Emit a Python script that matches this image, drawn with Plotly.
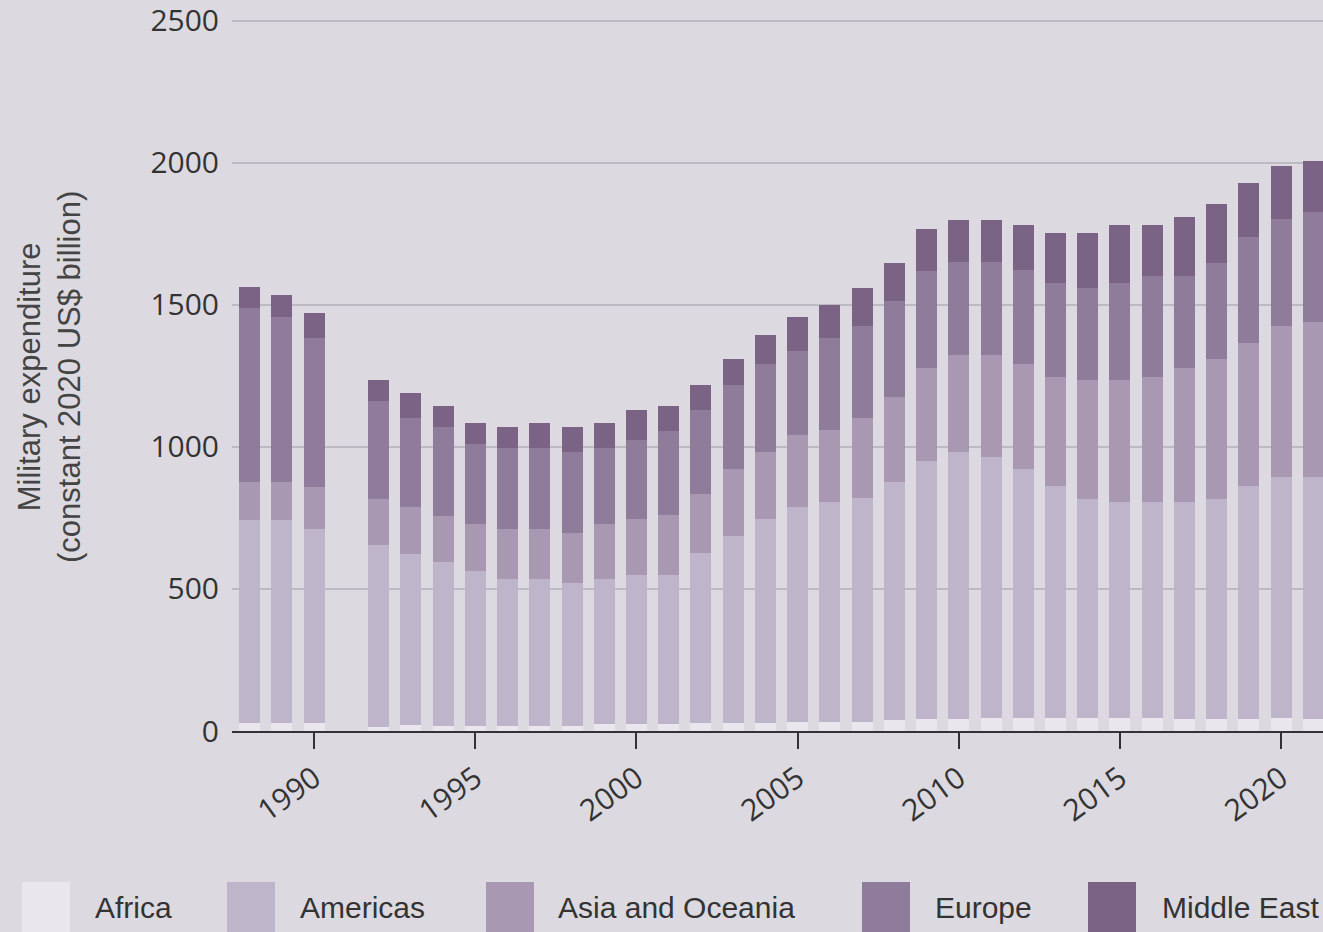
import plotly.graph_objects as go

years = [1988, 1989, 1990, 1992, 1993, 1994, 1995, 1996, 1997, 1998, 1999,
         2000, 2001, 2002, 2003, 2004, 2005, 2006, 2007, 2008, 2009, 2010,
         2011, 2012, 2013, 2014, 2015, 2016, 2017, 2018, 2019, 2020, 2021]

africa = [29, 29, 29, 15, 22, 18, 18, 18, 18, 17, 25,
          25, 25, 27, 27, 28, 30, 30, 32, 38, 42, 43,
          45, 45, 46, 47, 46, 45, 44, 44, 44, 45, 44]
americas = [714, 714, 681, 639, 601, 576, 546, 516, 516, 503, 509,
            525, 525, 598, 659, 718, 760, 776, 788, 838, 910, 940,
            921, 877, 817, 771, 759, 760, 761, 774, 819, 848, 849]
asia_oceania = [133, 133, 150, 163, 165, 163, 164, 177, 177, 176, 195,
                196, 211, 209, 236, 236, 251, 253, 282, 299, 327, 342,
                359, 370, 384, 416, 429, 442, 474, 490, 502, 534, 548]
europe = [612, 583, 523, 345, 313, 314, 283, 286, 286, 287, 268,
          279, 294, 295, 295, 310, 297, 326, 325, 339, 341, 326,
          326, 330, 329, 326, 342, 356, 324, 341, 374, 374, 387]
middle_east = [74, 76, 90, 74, 88, 74, 75, 74, 89, 88, 89,
               106, 89, 89, 91, 103, 118, 116, 132, 135, 148, 147,
               147, 160, 176, 192, 205, 178, 208, 206, 191, 188, 177]

series_names = ["Africa", "Americas", "Asia and Oceania", "Europe", "Middle East"]
series_values = [africa, americas, asia_oceania, europe, middle_east]
colors = ["#e9e7ed", "#bfb5ca", "#a898b1", "#8f7c9b", "#7a6384"]

y_ticks = [0, 500, 1000, 1500, 2000, 2500]

BG = "#dcdae0"
W, H = 1323, 932
ML, MR, MT, MB = 232, 0, 18, 201
PW = W - ML - MR
PH = H - MT - MB


def px_x(px):
    return (px - ML) / PW


def px_y(py):
    return (H - MB - py) / PH


fig = go.Figure()
for name, vals, col in zip(series_names, series_values, colors):
    fig.add_trace(go.Bar(x=years, y=vals, name=name, marker_color=col,
                         marker_line_width=0, showlegend=False))

# legend drawn as large swatches
legend_swatch_px = [22, 227, 486, 862, 1088]
legend_text_px = [93, 298, 556, 933, 1160]
shapes = []
annotations = []
for name, col, sx, tx in zip(series_names, colors, legend_swatch_px, legend_text_px):
    shapes.append(dict(type="rect", xref="paper", yref="paper",
                       x0=px_x(sx), x1=px_x(sx + 48), y0=px_y(882), y1=px_y(940),
                       fillcolor=col, line_width=0, layer="above"))
    annotations.append(dict(text=name, xref="paper", yref="paper",
                            x=px_x(tx), y=px_y(907), xanchor="left", yanchor="middle",
                            showarrow=False,
                            font=dict(family="Liberation Sans, Arial",
                                      size=30, color="#333333")))

annotations.append(dict(text="Military expenditure<br>(constant 2020 US$ billion)",
                        xref="paper", yref="paper", x=px_x(50), y=px_y(377),
                        textangle=-90, showarrow=False, xanchor="center", yanchor="middle",
                        font=dict(family="Liberation Sans, Arial", size=31, color="#444444")))

fig.update_layout(
    width=W, height=H,
    margin=dict(l=ML, r=MR, t=MT, b=MB),
    paper_bgcolor=BG, plot_bgcolor=BG,
    barmode="stack", bargap=0.35,
    shapes=shapes, annotations=annotations,
    xaxis=dict(range=[1987.45, 2021.3], tick0=1990, dtick=5, tickangle=-36,
               showgrid=False, zeroline=False, showline=True, linecolor="#333333",
               linewidth=2, ticks="outside", ticklen=16, tickwidth=2, tickcolor="#333333",
               tickfont=dict(family="Open Sans, DejaVu Sans", size=30, color="#333333")),
    yaxis=dict(range=[0, 2510], tickvals=y_ticks, showgrid=True, gridcolor="#bdbac3",
               gridwidth=1.5, zeroline=False, showline=False, ticks="",
               ticklabelstandoff=12, ticklabeloverflow="allow",
               tickfont=dict(family="Open Sans, DejaVu Sans", size=30, color="#333333")),
)

fig.write_html("out.html", config={"displayModeBar": False},
               post_script="document.body.style.margin='0';")
